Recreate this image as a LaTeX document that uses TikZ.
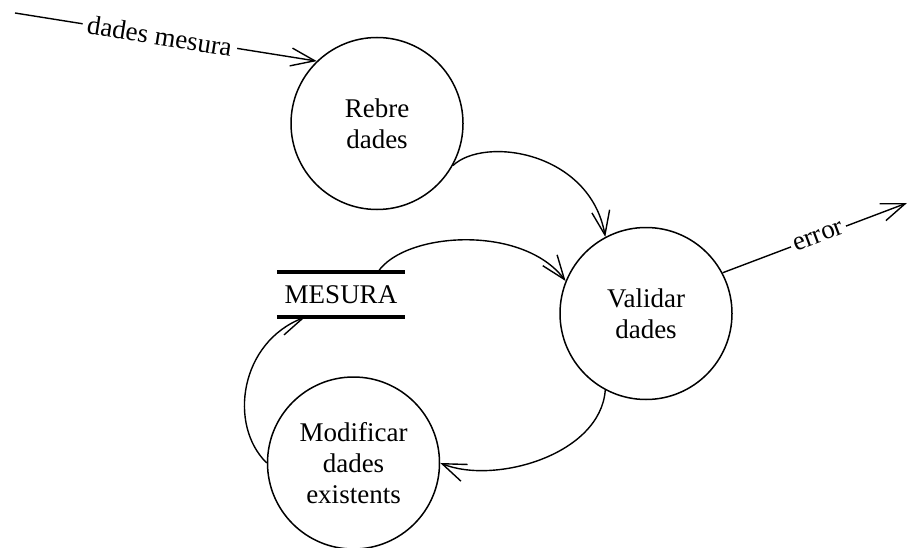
\documentclass[tikz,border=0pt]{standalone}
\usepackage{fontspec}
\setmainfont{Liberation Serif}
\usetikzlibrary{arrows.meta}
\begin{document}
\begin{tikzpicture}[x=1pt,y=-1pt,
  txt/.style={font=\fontsize{27}{31}\selectfont},
  proc/.style={circle,draw,line width=1.5pt,minimum size=172pt,inner sep=0pt,align=center,txt},
  storebox/.style={minimum width=128pt,minimum height=45pt,inner sep=0pt,txt},
  storeline/.style={line width=3.5pt},
  flow/.style={line width=1.4pt,-{Straight Barb[length=24pt,width=18pt,line width=1.4pt]}},
  lbl/.style={sloped,fill=white,inner sep=5pt,txt}
]
\useasboundingbox (0,0) rectangle (907,548);
\fill[white] (0,0) rectangle (907,548);

% processes
\node[proc] (rebre) at (377,123.5) {Rebre\\dades};
\node[proc] (validar) at (646,313.5) {Validar\\dades};
\node[proc] (modif) at (353.5,463) {Modificar\\dades\\existents};

% data store
\node[storebox] (mesura) at (341,294.5) {MESURA};
\draw[storeline] (mesura.north west) -- (mesura.north east);
\draw[storeline] (mesura.south west) -- (mesura.south east);

% external ends
\coordinate (src) at (15,13);
\coordinate (sink) at (907,203);

% flows
\draw[flow] (src) -- node[lbl,pos=0.48] {dades mesura} (rebre.134);
\draw[flow] (rebre.-29) .. controls +(32,-30) and +(-15,-85) .. (validar.118);
\draw[flow] ([xshift=37pt]mesura.north) .. controls +(27,-40) and +(-43,-57) .. (validar.158);
\draw[flow] (validar.242) .. controls +(-5,65) and +(54,22) .. (modif.east);
\draw[flow] (modif.west) .. controls +(-39,-38) and +(-65,25) .. ([xshift=-36pt]mesura.south);
\draw[flow] (validar.28) -- node[lbl,pos=0.52,inner sep=3pt] {error} (sink);
\end{tikzpicture}
\end{document}
